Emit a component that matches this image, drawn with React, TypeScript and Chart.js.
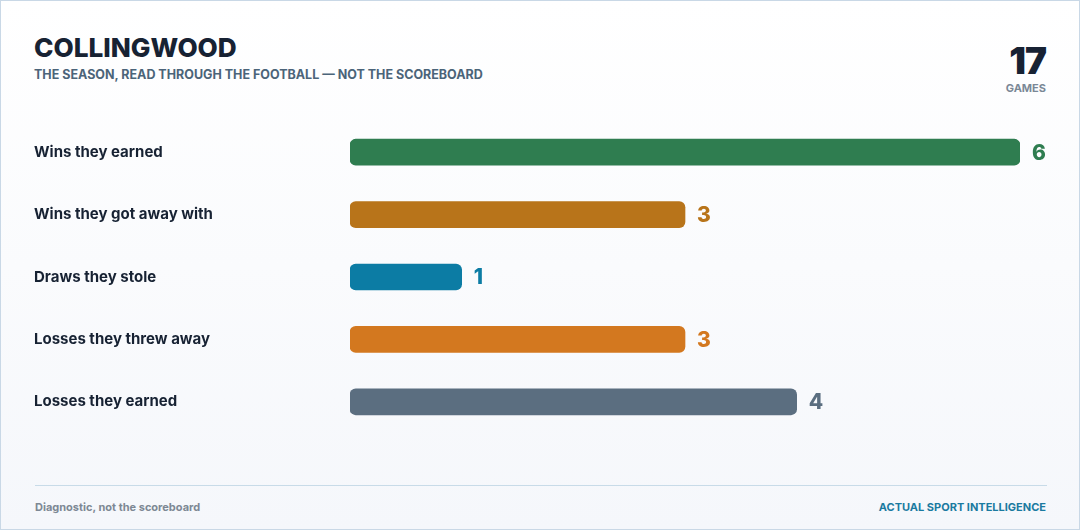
import React, { useEffect, useRef } from "react";
import { Chart, registerables } from "chart.js";
Chart.register(...registerables);

const categories = [
  "Wins they earned",
  "Wins they got away with",
  "Draws they stole",
  "Losses they threw away",
  "Losses they earned",
];
const values = [6, 3, 1, 3, 4];
const barColors = ["#2f7d50", "#b8741a", "#0c7ca4", "#d3781f", "#5b6e80"];
const totalGames = 17;

const FONT = "Inter, 'Noto Sans', sans-serif";

const valueLabelPlugin = {
  id: "valueLabels",
  afterDatasetsDraw(chart: any) {
    const ctx = chart.ctx;
    const meta = chart.getDatasetMeta(0);
    ctx.save();
    ctx.font = `800 21px ${FONT}`;
    ctx.textAlign = "left";
    ctx.textBaseline = "middle";
    meta.data.forEach((bar: any, i: number) => {
      ctx.fillStyle = barColors[i];
      ctx.fillText(String(values[i]), bar.x + 12, bar.y + 1);
    });
    ctx.restore();
  },
};

export default function App() {
  const ref = useRef<HTMLCanvasElement>(null);
  useEffect(() => {
    document.body.style.margin = "0";
    const chart = new Chart(ref.current!, {
      type: "bar",
      data: {
        labels: categories,
        datasets: [
          {
            data: values,
            backgroundColor: barColors,
            borderRadius: 6,
            borderSkipped: false,
            barThickness: 26,
          },
        ],
      },
      options: {
        indexAxis: "y",
        animation: false,
        responsive: false,
        maintainAspectRatio: false,
        layout: { padding: { right: 27, top: 0, bottom: 0, left: 0 } },
        plugins: { legend: { display: false }, tooltip: { enabled: false } },
        scales: {
          x: { display: false, min: 0, max: 6, grid: { display: false } },
          y: {
            grid: { display: false, drawTicks: false },
            border: { display: false },
            afterFit(scale: any) {
              scale.width = 316;
            },
            ticks: {
              crossAlign: "far",
              color: "#172233",
              font: { family: FONT, size: 15, weight: "bold" },
              padding: 0,
            },
          },
        },
      },
      plugins: [valueLabelPlugin],
    });
    return () => chart.destroy();
  }, []);

  return (
    <div
      style={{
        position: "fixed",
        left: 0,
        top: 0,
        width: 1080,
        height: 530,
        boxSizing: "border-box",
        border: "1px solid #c9d8e6",
        background: "linear-gradient(180deg, #ffffff 0%, #f5f7fb 100%)",
        fontFamily: FONT,
        overflow: "hidden",
      }}
    >
      <div
        style={{
          position: "absolute",
          left: 33,
          top: 30,
          fontSize: 26.2,
          fontWeight: 800,
          color: "#172233",
          lineHeight: "34px",
        }}
      >
        COLLINGWOOD
      </div>
      <div
        style={{
          position: "absolute",
          left: 33,
          top: 66,
          fontSize: 12.5,
          fontWeight: 700,
          color: "#4b6479",
          lineHeight: "16px",
        }}
      >
        THE SEASON, READ THROUGH THE FOOTBALL — NOT THE SCOREBOARD
      </div>
      <div
        style={{
          position: "absolute",
          right: 33,
          top: 38,
          fontSize: 37,
          fontWeight: 900,
          color: "#172233",
          lineHeight: "44px",
          textAlign: "right",
          letterSpacing: -1,
        }}
      >
        {totalGames}
      </div>
      <div
        style={{
          position: "absolute",
          right: 33,
          top: 80,
          fontSize: 11,
          fontWeight: 700,
          color: "#7a8896",
          lineHeight: "14px",
          textAlign: "right",
        }}
      >
        GAMES
      </div>
      <canvas
        ref={ref}
        width={1013}
        height={330}
        style={{ position: "absolute", left: 33, top: 111, width: 1013, height: 330 }}
      />
      <div
        style={{
          position: "absolute",
          left: 34,
          top: 484,
          width: 1012,
          height: 1,
          background: "#c8dbe8",
        }}
      />
      <div
        style={{
          position: "absolute",
          left: 34,
          top: 499,
          fontSize: 11,
          fontWeight: 700,
          color: "#7d8894",
          lineHeight: "14px",
        }}
      >
        Diagnostic, not the scoreboard
      </div>
      <div
        style={{
          position: "absolute",
          right: 33,
          top: 499,
          fontSize: 11,
          fontWeight: 700,
          color: "#1a7aa0",
          lineHeight: "14px",
        }}
      >
        ACTUAL SPORT INTELLIGENCE
      </div>
    </div>
  );
}
